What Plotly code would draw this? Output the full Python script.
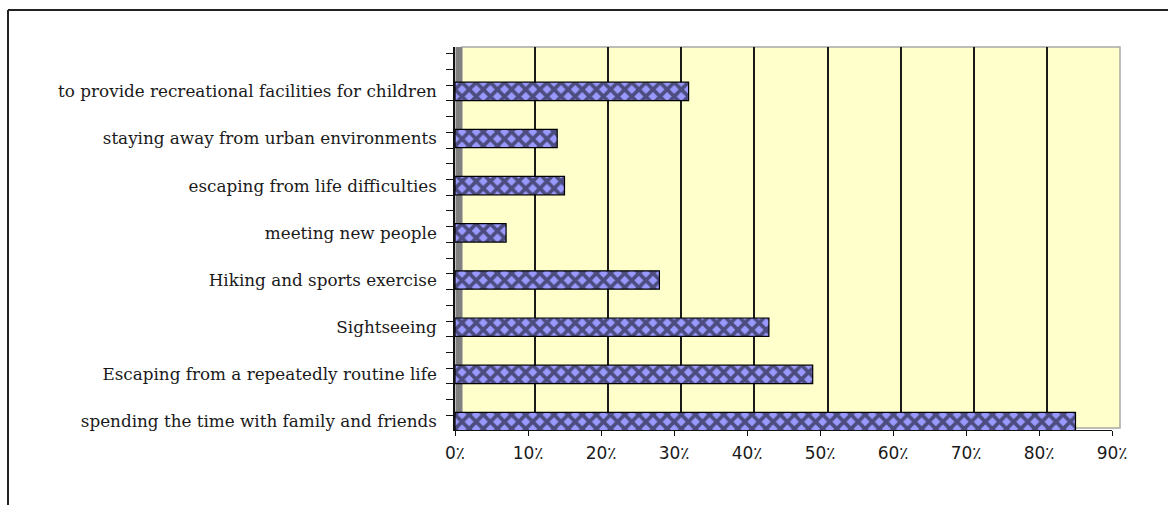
import plotly.graph_objects as go

# Survey data: share of respondents per motive (percent)
motives = [
    "spending the time with family and friends",
    "Escaping from a repeatedly routine life",
    "Sightseeing",
    "Hiking and sports exercise",
    "meeting new people",
    "escaping from life difficulties",
    "staying away from urban environments",
    "to provide recreational facilities for children",
]
shares = [85, 49, 43, 28, 7, 15, 14, 32]
pct_ticks = [0, 10, 20, 30, 40, 50, 60, 70, 80, 90]
pct_labels = [f"{v}\u066a" for v in pct_ticks]

W, H = 1168, 505


def fx(p):
    return p / W


def fy(p):
    return 1 - p / H


positions = list(range(len(motives)))

fig = go.Figure()

# empty trace keeps the back-wall subplot alive
fig.add_trace(go.Scatter(x=[], y=[], xaxis="x", yaxis="y", showlegend=False, hoverinfo="skip"))

fig.add_trace(go.Bar(
    x=shares,
    y=positions,
    orientation="h",
    width=0.39,
    xaxis="x2",
    yaxis="y2",
    marker=dict(
        color="#9999FF",
        line=dict(color="#000000", width=1.2),
        pattern=dict(shape="x", fgcolor="#000000", bgcolor="#9999FF", size=10, solidity=0.6),
    ),
    showlegend=False,
))

fig.update_layout(
    width=W,
    height=H,
    margin=dict(l=0, r=0, t=0, b=0),
    paper_bgcolor="white",
    plot_bgcolor="rgba(0,0,0,0)",
    # back wall with the vertical gridlines
    xaxis=dict(
        domain=[fx(462), fx(1120)], range=[0, 90], anchor="y",
        tickmode="array", tickvals=pct_ticks[1:-1], showticklabels=False, ticks="",
        showgrid=True, gridcolor="#1a1a1a", gridwidth=1.5, zeroline=False, showline=False,
        fixedrange=True,
    ),
    yaxis=dict(
        domain=[fy(428), fy(47)], range=[0, 1], anchor="x",
        showticklabels=False, ticks="", showgrid=False, zeroline=False, showline=False,
    ),
    # front plane carrying the bars and the axes
    xaxis2=dict(
        domain=[fx(455), fx(1112)], range=[0, 90], anchor="y2",
        tickmode="array", tickvals=pct_ticks, ticktext=pct_labels,
        ticks="outside", ticklen=5, tickwidth=1.2, tickcolor="#111111",
        showline=True, linecolor="#111111", linewidth=1.2,
        showgrid=False, zeroline=False, automargin=False,
        tickfont=dict(family="DejaVu Sans", size=17, color="#1a1a1a"),
        ticklabelstandoff=2,
    ),
    yaxis2=dict(
        domain=[fy(430), fy(47)], range=[-0.18, 7.94], anchor="x2",
        tickmode="array", tickvals=positions, ticktext=motives,
        ticks="", showline=True, linecolor="#111111", linewidth=1.5,
        showgrid=False, zeroline=False, automargin=False,
        tickfont=dict(family="DejaVu Serif", size=16.8, color="#1a1a1a"),
        ticklabelstandoff=13,
        minor=dict(ticks="outside", ticklen=7, tickwidth=1.2, tickcolor="#111111",
                   tick0=0.13, dtick=1 / 3, showgrid=False),
    ),
    shapes=[
        # yellow back wall
        dict(type="rect", xref="x domain", yref="y domain", x0=0, x1=1, y0=0, y1=1,
             fillcolor="#FFFFCC", line=dict(color="#A8A8A8", width=1.5), layer="below"),
        # grey side wall
        dict(type="rect", xref="paper", yref="paper", x0=fx(455.5), x1=fx(462),
             y0=fy(430), y1=fy(47), fillcolor="#808080", line=dict(width=0), layer="below"),
        # outer frame
        dict(type="line", xref="paper", yref="paper", x0=fx(8), x1=1.0, y0=fy(10), y1=fy(10),
             line=dict(color="#222222", width=2)),
        dict(type="line", xref="paper", yref="paper", x0=fx(8), x1=fx(8), y0=fy(10), y1=0,
             line=dict(color="#222222", width=2)),
    ],
)

fig.write_html("out.html")
